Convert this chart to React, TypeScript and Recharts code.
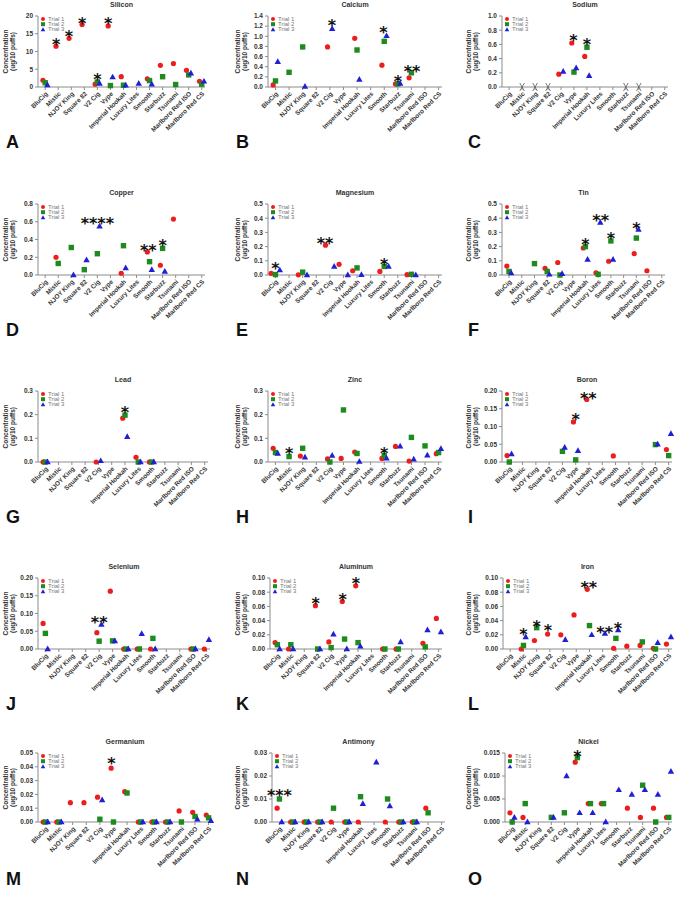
import React from 'react';
import {ScatterChart,Scatter,XAxis,YAxis} from 'recharts';

const brands=['BluCig','Mistic','NJOY King','Square 82','V2 Cig','Vype','Imperial Hookah','Luxury Lites','Smooth','Starbuzz','Tsunami','Marlboro Red ISO','Marlboro Red CS'];
const _=null;

// values per brand, in brand order; null = not plotted
const siliconT1=[1.9,11.5,13.7,17.6,0.8,17.2,2.9,_,2.3,6.1,6.6,4.7,1.6];
const siliconT2=[1.2,_,_,_,1.4,0.4,0.5,_,1.8,2.9,0.7,3.4,0.8];
const siliconT3=[0.6,_,_,_,1.0,2.8,0.5,1.0,0.8,_,_,3.9,1.6];
const siliconStars=[{c:0.85,y:12.9,s:'*'},{c:1.83,y:15.3,s:'*'},{c:2.83,y:19.0,s:'*'},{c:4,y:3.0,s:'*'},{c:4.83,y:18.8,s:'*'}];

const calciumT1=[0.04,_,_,_,0.79,_,0.96,_,0.43,0.06,0.18,_,_];
const calciumT2=[0.12,0.29,0.79,_,_,_,0.73,_,0.90,0.06,0.28,_,_];
const calciumT3=[0.50,_,0.01,_,1.15,_,0.15,_,1.01,0.07,_,_,_];
const calciumStars=[{c:4.15,y:1.29,s:'*'},{c:7.95,y:1.14,s:'*'},{c:9,y:0.18,s:'*'},{c:10.05,y:0.37,s:'**'}];

const sodiumT1=[_,_,_,_,0.18,0.62,0.43,_,_,_,_,_,_];
const sodiumT2=[_,_,_,_,_,0.21,0.56,_,_,_,_,_,_];
const sodiumT3=[_,_,_,_,0.22,0.27,0.16,_,_,_,_,_,_];
const sodiumStars=[{c:4.95,y:0.70,s:'*'},{c:6,y:0.65,s:'*'}];
const sodiumMissing=[1,2,3,9,10];

const copperT1=[_,0.20,_,_,_,_,0.02,_,0.26,0.11,0.63,_,_];
const copperT2=[_,0.13,0.31,0.06,0.24,_,0.33,_,0.15,0.30,_,_,_];
const copperT3=[_,_,0.0,0.17,0.55,_,0.08,_,0.06,0.04,_,_,_];
const copperStars=[{c:4,y:0.62,s:'****'},{c:7.9,y:0.31,s:'**'},{c:9,y:0.37,s:'*'}];

const magnesiumT1=[0.012,_,0.001,_,0.21,0.075,0.03,_,0.025,_,0.002,_,_];
const magnesiumT2=[0.003,_,0.02,_,_,_,0.05,_,0.06,_,0.005,_,_];
const magnesiumT3=[0.035,_,0.0,_,0.06,0.0,0.002,_,0.06,_,0.0,_,_];
const magnesiumStars=[{c:0,y:0.07,s:'*'},{c:3.65,y:0.245,s:'**'},{c:8,y:0.10,s:'*'}];

const tinT1=[0.063,_,_,0.047,0.088,_,0.19,0.015,0.097,_,0.15,0.03,_];
const tinT2=[0.025,_,0.08,0.025,0.0,_,0.20,0.005,0.24,_,0.26,_,_];
const tinT3=[0.015,_,_,0.005,0.01,_,0.11,0.37,0.11,_,0.32,_,_];
const tinStars=[{c:6,y:0.24,s:'*'},{c:7.2,y:0.41,s:'**'},{c:8,y:0.28,s:'*'},{c:10,y:0.35,s:'*'}];

const leadT1=[0,_,_,_,0,_,0.185,0.02,0,_,_,_,_];
const leadT2=[0,_,_,_,_,_,0.198,0,0,_,_,_,_];
const leadT3=[0,_,_,_,0.005,_,0.107,0,0,_,_,_,_];
const leadStars=[{c:6,y:0.222,s:'*'}];

const zincT1=[0.058,_,0.025,_,0.013,0.015,0.042,_,0.015,0.066,0.004,_,0.035];
const zincT2=[0.040,0.023,0.058,_,0.0,0.22,0.036,_,0.027,_,0.104,0.068,0.040];
const zincT3=[0.036,_,0.020,_,0.028,_,0.002,_,0.016,0.067,0.012,0.029,0.056];
const zincStars=[{c:1,y:0.05,s:'*'},{c:8,y:0.05,s:'*'}];

const boronT1=[0.018,_,_,_,_,0.113,0.176,_,0.017,_,_,_,0.035];
const boronT2=[0.0,_,_,_,0.030,0.006,_,_,_,_,_,0.049,0.018];
const boronT3=[0.023,_,_,_,0.041,0.032,_,_,_,_,_,0.050,0.080];
const boronStars=[{c:5,y:0.13,s:'*'},{c:5.95,y:0.19,s:'**'}];

const seleniumT1=[0.072,_,_,_,0.046,0.163,0,0,0,_,_,0,0];
const seleniumT2=[0.044,_,_,_,0.022,0.023,0,0,0.030,_,_,0,_];
const seleniumT3=[0,_,_,_,0.069,0.023,0,0.043,0,_,_,0,0.026];
const seleniumStars=[{c:4,y:0.085,s:'**'}];

const aluminumT1=[0.009,0.0,_,0.061,0.010,0.067,0.089,_,0,0,_,0.008,0.043];
const aluminumT2=[0.006,0.006,_,0,0.002,0.014,0.009,_,0,0,_,0.003,_];
const aluminumT3=[0,0,_,0,0.021,0,0.004,_,_,0.010,_,0.027,0.024];
const aluminumStars=[{c:2.85,y:0.069,s:'*'},{c:4.85,y:0.075,s:'*'},{c:5.85,y:0.097,s:'*'}];

const ironT1=[_,0.0,0.012,0.021,0.020,0.048,0.084,_,0.001,0.004,0.005,0.001,0.007];
const ironT2=[_,0.005,0.030,_,_,_,0.033,_,0.015,_,0.010,0.0,_];
const ironT3=[_,0.017,_,_,0.013,_,0.020,0.022,0.027,_,_,0.009,0.017];
const ironStars=[{c:1,y:0.026,s:'*'},{c:2,y:0.037,s:'*'},{c:2.85,y:0.031,s:'*'},{c:5.95,y:0.091,s:'**'},{c:7.15,y:0.028,s:'**'},{c:8.15,y:0.034,s:'*'}];

const germaniumT1=[0,0,0.014,0.014,0.018,0.039,0.022,0,0,0,0.008,0.007,0.005];
const germaniumT2=[0,0,_,_,0.002,0.0,0.021,0,0,0,0.0,0.004,0.003];
const germaniumT3=[0,0,_,_,0.016,_,_,0,0,0,_,0.002,0.001];
const germaniumStars=[{c:4.85,y:0.045,s:'*'}];

const antimonyT1=[0.006,0,0,0,0,0,0,_,0,0,0,0.006,_];
const antimonyT2=[0.010,0,0,0,0.006,0,0.011,_,0.010,0,0,0.004,_];
const antimonyT3=[0,0,0,0,_,0,0.008,0.026,0.007,0,0,_,_];
const antimonyStars=[{c:0,y:0.013,s:'***'}];

const nickelT1=[0.002,0.001,_,_,_,0.013,0.004,0.004,_,0.003,0.001,0.003,0.001];
const nickelT2=[0.0,0.004,_,0.001,0.002,0.014,0.004,0.004,_,_,0.008,0.0,0.001];
const nickelT3=[0.001,0.0,_,0.001,0.010,0.002,0.002,0.0,0.007,0.006,0.007,0.006,0.011];
const nickelStars=[{c:5,y:0.015,s:'*'}];

const panels=[
  {t:'Silicon',l:'A',col:0,row:0,x0:38,x1:205,ticks:[0,5,10,15,20],d:0,s:[siliconT1,siliconT2,siliconT3],st:siliconStars},
  {t:'Calcium',l:'B',col:1,row:0,x0:268,x1:442,ticks:[0,0.2,0.4,0.6,0.8,1.0,1.2,1.4],d:1,s:[calciumT1,calciumT2,calciumT3],st:calciumStars},
  {t:'Sodium',l:'C',col:2,row:0,x0:502,x1:668,ticks:[0,0.2,0.4,0.6,0.8,1.0],d:1,s:[sodiumT1,sodiumT2,sodiumT3],st:sodiumStars,miss:sodiumMissing},
  {t:'Copper',l:'D',col:0,row:1,x0:38,x1:205,ticks:[0,0.2,0.4,0.6,0.8],d:1,s:[copperT1,copperT2,copperT3],st:copperStars},
  {t:'Magnesium',l:'E',col:1,row:1,x0:268,x1:442,ticks:[0,0.1,0.2,0.3,0.4,0.5],d:1,s:[magnesiumT1,magnesiumT2,magnesiumT3],st:magnesiumStars,spread:0.32},
  {t:'Tin',l:'F',col:2,row:1,x0:502,x1:665,ticks:[0,0.1,0.2,0.3,0.4,0.5],d:1,s:[tinT1,tinT2,tinT3],st:tinStars},
  {t:'Lead',l:'G',col:0,row:2,x0:38,x1:208,ticks:[0,0.1,0.2,0.3],d:1,s:[leadT1,leadT2,leadT3],st:leadStars},
  {t:'Zinc',l:'H',col:1,row:2,x0:268,x1:442,ticks:[0,0.1,0.2,0.3],d:1,s:[zincT1,zincT2,zincT3],st:zincStars},
  {t:'Boron',l:'I',col:2,row:2,x0:502,x1:672,ticks:[0,0.05,0.1,0.15,0.2],d:2,s:[boronT1,boronT2,boronT3],st:boronStars},
  {t:'Selenium',l:'J',col:0,row:3,x0:38,x1:210,ticks:[0,0.05,0.1,0.15,0.2],d:2,s:[seleniumT1,seleniumT2,seleniumT3],st:seleniumStars},
  {t:'Aluminum',l:'K',col:1,row:3,x0:270,x1:442,ticks:[0,0.02,0.04,0.06,0.08,0.1],d:2,s:[aluminumT1,aluminumT2,aluminumT3],st:aluminumStars},
  {t:'Iron',l:'L',col:2,row:3,x0:503,x1:672,ticks:[0,0.02,0.04,0.06,0.08,0.1],d:2,s:[ironT1,ironT2,ironT3],st:ironStars},
  {t:'Germanium',l:'M',col:0,row:4,x0:38,x1:212,ticks:[0,0.01,0.02,0.03,0.04,0.05],d:2,s:[germaniumT1,germaniumT2,germaniumT3],st:germaniumStars},
  {t:'Antimony',l:'N',col:1,row:4,x0:272,x1:445,ticks:[0,0.01,0.02,0.03],d:2,s:[antimonyT1,antimonyT2,antimonyT3],st:antimonyStars},
  {t:'Nickel',l:'O',col:2,row:4,x0:505,x1:672,ticks:[0,0.005,0.01,0.015],d:3,s:[nickelT1,nickelT2,nickelT3],st:nickelStars},
];

const RED='#EE1D1D',GREEN='#1E8B1E',BLUE='#1F1FD6',AX='#8C8C8C',TXT='#333';
const F='"Liberation Sans",Arial,sans-serif';
const TOPS=[16,204,391,578,753];
const BOTS=[87,275,462,649,822];
const ROWY=[0,180,360,540,720];
const COLX=[0,225,450];
const LBLX=[9,241,472];
const LETX=[6,236,468];
const YW=24,XH=50,CW=226,CH=185;

const pts=(vals:any[],off:number)=>vals.map((v,i)=>v==null?null:{x:i+off,y:v}).filter(Boolean);

const Dot=(p:any)=><circle cx={p.cx} cy={p.cy} r={2.6} fill={RED}/>;
const Sq=(p:any)=><rect x={p.cx-2.7} y={p.cy-2.7} width={5.4} height={5.4} fill={GREEN}/>;
const Tri=(p:any)=><path d={`M${p.cx},${p.cy-3.4}L${p.cx+3.2},${p.cy+2.3}L${p.cx-3.2},${p.cy+2.3}Z`} fill={BLUE}/>;
const Star=(p:any)=><text x={p.cx} y={p.cy+9} textAnchor="middle" fontSize={16} fontWeight="bold" fontFamily='"DejaVu Sans",sans-serif' fill="#111">{p.payload.s}</text>;
const Cross=(p:any)=><path d={`M${p.cx-2.3},${p.cy+4}L${p.cx+2.3},${p.cy-4}M${p.cx-2.3},${p.cy-4}L${p.cx+2.3},${p.cy+4}`} stroke="#555" strokeWidth={0.8} fill="none"/>;

const BrandTick=(p:any)=>(
  <g transform={`translate(${p.x+1},${p.y})`}>
    <text x={0} y={0} dy={3} textAnchor="end" transform="rotate(-45)" fontSize={6.4} fontWeight="bold" fontFamily={F} fill={TXT}>{brands[p.payload.value]}</text>
  </g>
);

const Panel=({p}:{p:any})=>{
  const top=TOPS[p.row],bot=BOTS[p.row],ry=ROWY[p.row],cx=COLX[p.col];
  const sp=p.spread||0.17;
  const margin={top:top-ry,left:p.x0-cx-YW,right:cx+CW-p.x1,bottom:CH-(bot-ry)-XH};
  const max=p.ticks[p.ticks.length-1];
  return(
    <div style={{position:'absolute',left:cx,top:ry}}>
      <ScatterChart width={CW} height={CH} margin={margin}>
        <XAxis type="number" dataKey="x" domain={[-0.55,12.25]} ticks={[0,1,2,3,4,5,6,7,8,9,10,11,12]} interval={0} tick={<BrandTick/>} tickSize={3} height={XH} stroke={AX} tickLine={{stroke:AX}} axisLine={{stroke:AX}}/>
        <YAxis type="number" dataKey="y" domain={[0,max]} ticks={p.ticks} interval={0} width={YW} tickSize={3} tickFormatter={(v:number)=>v.toFixed(p.d)} tick={{fontSize:6.5,fontWeight:'bold',fill:TXT,fontFamily:F}} stroke={AX} tickLine={{stroke:AX}} axisLine={{stroke:AX}}/>
        {p.miss&&<Scatter data={p.miss.map((c:number)=>({x:c,y:0}))} shape={Cross} isAnimationActive={false}/>}
        <Scatter data={pts(p.s[0],-sp)} shape={Dot} isAnimationActive={false}/>
        <Scatter data={pts(p.s[1],0)} shape={Sq} isAnimationActive={false}/>
        <Scatter data={pts(p.s[2],sp)} shape={Tri} isAnimationActive={false}/>
        <Scatter data={p.st.map((s:any)=>({x:s.c,y:s.y,s:s.s}))} shape={Star} isAnimationActive={false}/>
      </ScatterChart>
    </div>
  );
};

const Overlay=({p}:{p:any})=>{
  const top=TOPS[p.row],bot=BOTS[p.row];
  const mid=(top+bot)/2,lx=LBLX[p.col];
  const gx=p.x0+5,gy=top+3;
  return(
    <g fontFamily={F}>
      <text x={(p.x0+p.x1)/2} y={top-9} textAnchor="middle" fontSize={7} fontWeight="bold" fill={TXT}>{p.t}</text>
      <text transform={`translate(${lx},${mid}) rotate(-90)`} textAnchor="middle" fontSize={6.5} fontWeight="bold" fill={TXT}>
        <tspan x={0} dy={-1}>Concentration</tspan>
        <tspan x={0} dy={7}>(ug/10 puffs)</tspan>
      </text>
      <circle cx={gx} cy={gy} r={2} fill={RED}/>
      <rect x={gx-2} y={gy+3.2} width={4} height={4} fill={GREEN}/>
      <path d={`M${gx},${gy+8.3}L${gx+2.3},${gy+12.2}L${gx-2.3},${gy+12.2}Z`} fill={BLUE}/>
      <text x={gx+5} y={gy+2} fontSize={6} fill="#777">Trial 1</text>
      <text x={gx+5} y={gy+7.2} fontSize={6} fill="#777">Trial 2</text>
      <text x={gx+5} y={gy+12.4} fontSize={6} fill="#777">Trial 3</text>
      <text x={LETX[p.col]} y={top+132} fontSize={18} fontWeight="bold" fill="#111">{p.l}</text>
    </g>
  );
};

export default function App(){
  return(
    <div style={{position:'absolute',left:0,top:0,width:678,height:900,background:'#fff',overflow:'hidden'}}>
      {panels.map(p=><Panel key={p.l} p={p}/>)}
      <svg width={678} height={900} style={{position:'absolute',left:0,top:0,pointerEvents:'none'}}>
        {panels.map(p=><Overlay key={p.l} p={p}/>)}
      </svg>
    </div>
  );
}
